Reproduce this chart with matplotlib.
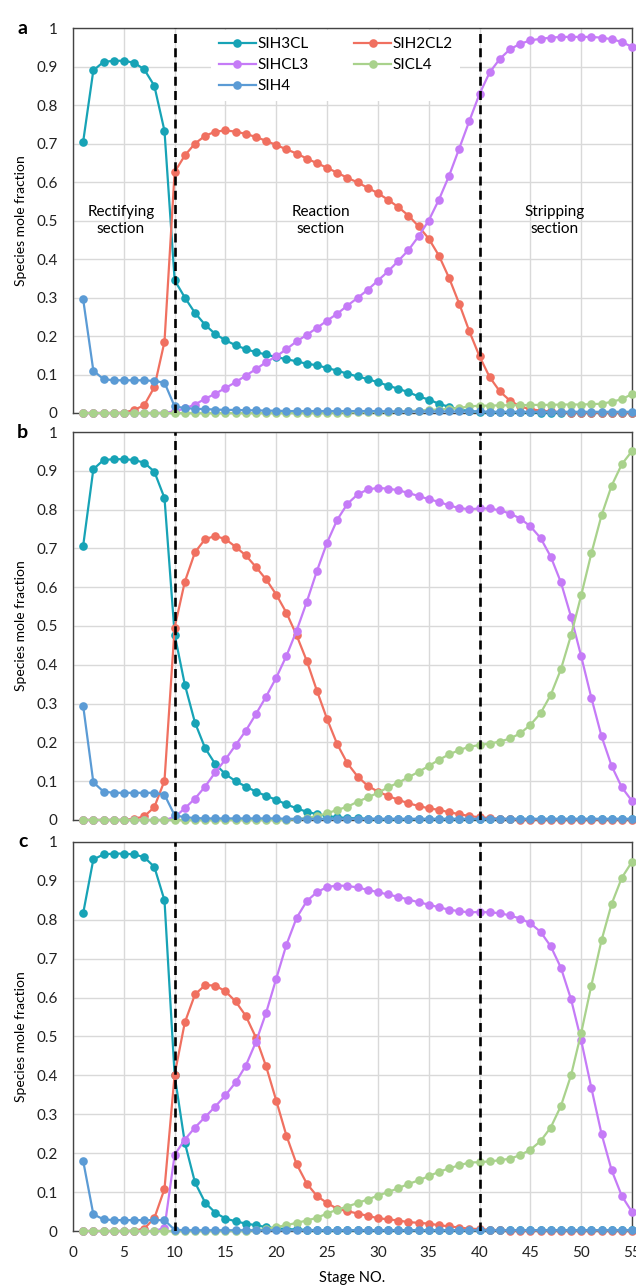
import numpy as np
import matplotlib
matplotlib.use("Agg")
import matplotlib.pyplot as plt

plt.rcParams['font.family'] = ['Lato', 'DejaVu Sans']

# stage numbers
stages = list(range(1, 56))

# ---- panel a ----
a_sih3cl = [0.705, 0.89, 0.912, 0.915, 0.915, 0.91, 0.893, 0.85, 0.733, 0.345,
            0.30, 0.26, 0.229, 0.205, 0.189, 0.176, 0.166, 0.158, 0.152, 0.145,
            0.14, 0.134, 0.128, 0.124, 0.117, 0.11, 0.102, 0.095, 0.088, 0.08,
            0.071, 0.063, 0.054, 0.043, 0.035, 0.024, 0.016, 0.009, 0.005, 0.003,
            0.002, 0.002, 0.002, 0.002, 0.002, 0.001, 0.001, 0.001, 0.001, 0.001,
            0.001, 0.001, 0.001, 0.001, 0.001]
a_sih2cl2 = [0, 0, 0, 0, 0.001, 0.008, 0.02, 0.067, 0.185, 0.626,
             0.669, 0.70, 0.72, 0.731, 0.734, 0.731, 0.725, 0.717, 0.707, 0.696,
             0.685, 0.674, 0.661, 0.649, 0.637, 0.624, 0.611, 0.599, 0.585, 0.571,
             0.554, 0.535, 0.513, 0.485, 0.453, 0.409, 0.351, 0.284, 0.212, 0.147,
             0.093, 0.056, 0.032, 0.017, 0.01, 0.006, 0.004, 0.002, 0.001, 0.001,
             0.001, 0.001, 0.001, 0.001, 0.001]
a_sihcl3 = [0, 0, 0, 0, 0, 0, 0, 0, 0.001, 0.004,
            0.012, 0.022, 0.037, 0.05, 0.065, 0.08, 0.097, 0.114, 0.132, 0.147,
            0.166, 0.186, 0.203, 0.221, 0.24, 0.258, 0.279, 0.299, 0.32, 0.344,
            0.368, 0.395, 0.423, 0.459, 0.50, 0.554, 0.616, 0.687, 0.759, 0.829,
            0.885, 0.92, 0.945, 0.959, 0.968, 0.972, 0.975, 0.977, 0.977, 0.977,
            0.977, 0.975, 0.971, 0.964, 0.951]
a_sicl4 = [0, 0, 0, 0, 0, 0, 0, 0, 0, 0,
           0, 0, 0, 0, 0, 0, 0, 0, 0, 0,
           0, 0, 0, 0, 0, 0.001, 0.001, 0.002, 0.002, 0.003,
           0.003, 0.004, 0.005, 0.006, 0.008, 0.009, 0.011, 0.013, 0.017, 0.019,
           0.019, 0.02, 0.02, 0.02, 0.021, 0.021, 0.021, 0.022, 0.022, 0.022,
           0.023, 0.024, 0.029, 0.036, 0.049]
a_sih4 = [0.295, 0.11, 0.088, 0.085, 0.085, 0.085, 0.085, 0.083, 0.079, 0.017,
          0.013, 0.011, 0.01, 0.009, 0.008, 0.008, 0.007, 0.007, 0.006, 0.006,
          0.005, 0.005, 0.005, 0.005, 0.005, 0.005, 0.005, 0.005, 0.005, 0.005,
          0.004, 0.004, 0.004, 0.004, 0.004, 0.004, 0.004, 0.004, 0.004, 0.004,
          0.003, 0.003, 0.003, 0.003, 0.003, 0.003, 0.003, 0.003, 0.003, 0.003,
          0.003, 0.003, 0.003, 0.003, 0.003]

# ---- panel b ----
b_sih3cl = [0.707, 0.904, 0.928, 0.93, 0.93, 0.928, 0.921, 0.898, 0.83, 0.478,
            0.349, 0.251, 0.185, 0.144, 0.118, 0.10, 0.086, 0.073, 0.062, 0.052,
            0.04, 0.03, 0.021, 0.015, 0.01, 0.007, 0.005, 0.004, 0.003, 0.002,
            0.002, 0.002, 0.002, 0.002, 0.002, 0.002, 0.002, 0.002, 0.002, 0.002,
            0.002, 0.002, 0.002, 0.002, 0.002, 0.002, 0.002, 0.002, 0.002, 0.002,
            0.002, 0.002, 0.002, 0.002, 0.002]
b_sih2cl2 = [0, 0, 0, 0, 0, 0.003, 0.009, 0.033, 0.101, 0.496,
             0.614, 0.69, 0.724, 0.732, 0.724, 0.704, 0.682, 0.652, 0.62, 0.581,
             0.534, 0.476, 0.41, 0.333, 0.26, 0.195, 0.146, 0.112, 0.088, 0.073,
             0.062, 0.052, 0.043, 0.036, 0.03, 0.026, 0.02, 0.015, 0.01, 0.007,
             0.005, 0.003, 0.002, 0.001, 0.001, 0.001, 0.001, 0.001, 0.001, 0.001,
             0.001, 0.001, 0.001, 0.001, 0.001]
b_sihcl3 = [0, 0, 0, 0, 0, 0, 0, 0, 0, 0.007,
            0.03, 0.055, 0.086, 0.123, 0.156, 0.193, 0.23, 0.273, 0.318, 0.367,
            0.423, 0.488, 0.562, 0.642, 0.715, 0.774, 0.815, 0.839, 0.852, 0.856,
            0.854, 0.85, 0.843, 0.835, 0.827, 0.82, 0.811, 0.804, 0.801, 0.803,
            0.803, 0.798, 0.79, 0.777, 0.757, 0.727, 0.679, 0.613, 0.524, 0.422,
            0.315, 0.216, 0.139, 0.084, 0.049]
b_sicl4 = [0, 0, 0, 0, 0, 0, 0, 0, 0, 0,
           0, 0, 0, 0, 0, 0, 0, 0, 0, 0,
           0, 0.002, 0.005, 0.01, 0.017, 0.026, 0.034, 0.047, 0.058, 0.07,
           0.084, 0.096, 0.11, 0.124, 0.139, 0.155, 0.169, 0.18, 0.189, 0.193,
           0.197, 0.202, 0.21, 0.223, 0.245, 0.275, 0.322, 0.388, 0.476, 0.579,
           0.687, 0.785, 0.862, 0.917, 0.951]
b_sih4 = [0.294, 0.097, 0.073, 0.07, 0.07, 0.07, 0.07, 0.07, 0.065, 0.012,
          0.007, 0.005, 0.004, 0.004, 0.004, 0.004, 0.004, 0.004, 0.004, 0.004,
          0.003, 0.003, 0.003, 0.003, 0.003, 0.003, 0.003, 0.003, 0.003, 0.003,
          0.003, 0.003, 0.003, 0.003, 0.003, 0.003, 0.003, 0.003, 0.003, 0.003,
          0.003, 0.003, 0.003, 0.003, 0.003, 0.003, 0.003, 0.003, 0.003, 0.003,
          0.003, 0.003, 0.003, 0.003, 0.003]

# ---- panel c ----
c_sih3cl = [0.817, 0.955, 0.968, 0.97, 0.97, 0.968, 0.961, 0.936, 0.85, 0.40,
            0.227, 0.125, 0.073, 0.047, 0.032, 0.025, 0.019, 0.015, 0.01, 0.007,
            0.005, 0.004, 0.003, 0.002, 0.002, 0.002, 0.002, 0.002, 0.002, 0.002,
            0.002, 0.002, 0.002, 0.002, 0.002, 0.002, 0.002, 0.002, 0.002, 0.002,
            0.002, 0.002, 0.002, 0.002, 0.002, 0.002, 0.002, 0.002, 0.002, 0.002,
            0.002, 0.002, 0.002, 0.002, 0.002]
c_sih2cl2 = [0, 0, 0, 0, 0, 0.001, 0.006, 0.033, 0.108, 0.402,
             0.536, 0.608, 0.632, 0.631, 0.616, 0.59, 0.553, 0.497, 0.423, 0.335,
             0.245, 0.172, 0.122, 0.09, 0.072, 0.057, 0.051, 0.045, 0.039, 0.033,
             0.03, 0.027, 0.023, 0.021, 0.019, 0.015, 0.012, 0.009, 0.006, 0.005,
             0.003, 0.002, 0.001, 0.001, 0.001, 0.001, 0.001, 0.001, 0.001, 0.001,
             0.001, 0.001, 0.001, 0.001, 0.001]
c_sihcl3 = [0, 0, 0, 0, 0, 0, 0, 0, 0.008, 0.196,
            0.235, 0.266, 0.293, 0.32, 0.349, 0.382, 0.425, 0.486, 0.561, 0.649,
            0.736, 0.805, 0.848, 0.871, 0.884, 0.888, 0.887, 0.883, 0.877, 0.871,
            0.865, 0.859, 0.852, 0.845, 0.839, 0.832, 0.826, 0.822, 0.819, 0.82,
            0.819, 0.817, 0.811, 0.803, 0.791, 0.769, 0.732, 0.677, 0.596, 0.49,
            0.368, 0.25, 0.156, 0.09, 0.049]
c_sicl4 = [0, 0, 0, 0, 0, 0, 0, 0, 0, 0,
           0, 0, 0, 0, 0, 0, 0, 0.002, 0.005, 0.01,
           0.015, 0.021, 0.027, 0.034, 0.045, 0.055, 0.063, 0.072, 0.081, 0.091,
           0.10, 0.11, 0.121, 0.13, 0.141, 0.152, 0.161, 0.169, 0.176, 0.177,
           0.179, 0.182, 0.186, 0.195, 0.209, 0.231, 0.266, 0.321, 0.40, 0.509,
           0.631, 0.747, 0.841, 0.908, 0.949]
c_sih4 = [0.18, 0.043, 0.03, 0.028, 0.028, 0.028, 0.028, 0.028, 0.028, 0.003,
          0.002, 0.002, 0.002, 0.002, 0.002, 0.002, 0.002, 0.002, 0.002, 0.002,
          0.002, 0.002, 0.002, 0.002, 0.002, 0.002, 0.002, 0.002, 0.002, 0.002,
          0.002, 0.002, 0.002, 0.002, 0.002, 0.002, 0.002, 0.002, 0.002, 0.002,
          0.002, 0.002, 0.002, 0.002, 0.002, 0.002, 0.002, 0.002, 0.002, 0.002,
          0.002, 0.002, 0.002, 0.002, 0.002]

names = ['SIH3CL', 'SIH2CL2', 'SIHCL3', 'SICL4', 'SIH4']
colors = ['#17A3B6', '#F07060', '#C57BF7', '#A9D28C', '#5B9BD5']
panels = [
    ('a', [a_sih3cl, a_sih2cl2, a_sihcl3, a_sicl4, a_sih4]),
    ('b', [b_sih3cl, b_sih2cl2, b_sihcl3, b_sicl4, b_sih4]),
    ('c', [c_sih3cl, c_sih2cl2, c_sihcl3, c_sicl4, c_sih4]),
]
# axes rectangles [left, bottom, width, height] in figure fraction
rects = [[0.1148, 0.6791, 0.8789, 0.2991],
         [0.1148, 0.3629, 0.8789, 0.3014],
         [0.1148, 0.0435, 0.8789, 0.3023]]

fig = plt.figure(figsize=(6.36, 12.87), dpi=100)

for i, (letter, series) in enumerate(panels):
    ax = fig.add_axes(rects[i])
    lines = []
    for vals, nm, col in zip(series, names, colors):
        ln, = ax.plot(stages, vals, '-o', color=col, lw=1.6, ms=6.2,
                      mec=col, mew=0, label=nm, clip_on=False, zorder=3)
        lines.append(ln)
    for xv in (10, 40):
        ax.axvline(xv, color='black', ls=(0, (3.4, 2.0)), lw=1.9, zorder=5)

    ax.set_xlim(0, 55)
    ax.set_ylim(0, 1)
    ax.set_xticks(np.arange(0, 56, 5))
    ax.set_yticks(np.arange(0, 1.01, 0.1))
    ax.set_yticklabels(['0', '0.1', '0.2', '0.3', '0.4', '0.5', '0.6',
                        '0.7', '0.8', '0.9', '1'])
    ax.grid(True, color='#D9D9D9', lw=1.0, zorder=0)
    ax.set_axisbelow(True)
    ax.tick_params(length=0, labelsize=11, colors='#222222')
    ax.tick_params(axis='y', pad=11)
    ax.tick_params(axis='x', pad=11)
    for sp in ax.spines.values():
        sp.set_color('#444444')
        sp.set_linewidth(1.0)
    ax.set_ylabel('Species mole fraction', fontsize=10, labelpad=7)
    ax.text(-0.09, 1.0, letter, transform=ax.transAxes, fontsize=14,
            fontweight='bold', ha='center', va='center')
    if i < 2:
        ax.tick_params(labelbottom=False)
    else:
        ax.set_xlabel('Stage NO.', fontsize=10.5, labelpad=8)

    if i == 0:
        order = [0, 2, 4, 1, 3]
        leg = ax.legend([lines[k] for k in order], [names[k] for k in order],
                        ncol=2, loc='upper left', bbox_to_anchor=(0.245, 1.0),
                        frameon=True, facecolor='white', edgecolor='none',
                        framealpha=1, fontsize=11, handlelength=2.4,
                        handletextpad=0.1, columnspacing=3.0,
                        borderaxespad=0.1, labelspacing=0.45, borderpad=0.5)
        leg.set_zorder(4)
        ax.text(4.7, 0.5, 'Rectifying\nsection', ha='center', va='center',
                fontsize=11, linespacing=1.3)
        ax.text(24.4, 0.5, 'Reaction\nsection', ha='center', va='center',
                fontsize=11, linespacing=1.3)
        ax.text(47.4, 0.5, 'Stripping\nsection', ha='center', va='center',
                fontsize=11, linespacing=1.3)

fig.savefig('out.png', dpi=100)
